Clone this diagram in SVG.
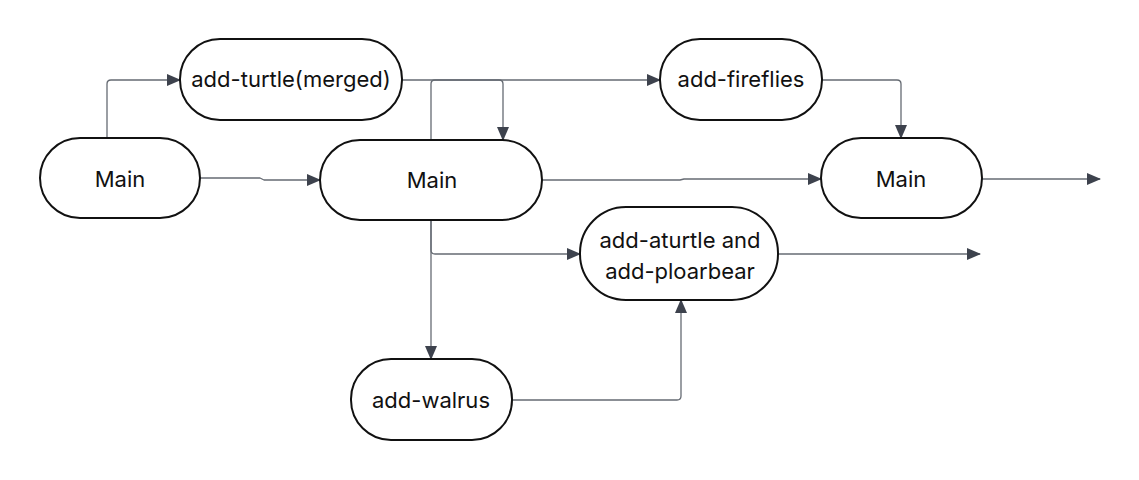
<svg xmlns="http://www.w3.org/2000/svg" width="1139" height="480" viewBox="0 0 1139 480">
<style>
.n{fill:#fff;stroke:#111;stroke-width:2}
.t{font-family:Inter,"Liberation Sans",sans-serif;font-size:22px;fill:#111;text-anchor:middle;dominant-baseline:central}
.c{fill:none;stroke:#666b73;stroke-width:1.3;stroke-linejoin:round}
</style>
<defs>
<marker id="a" markerUnits="userSpaceOnUse" markerWidth="14" markerHeight="12" refX="13" refY="6" orient="auto">
<path d="M0,0 L14,6 L0,12 Z" fill="#3d424d"/>
</marker>
</defs>
<rect width="1139" height="480" fill="#fff"/>
<g id="connectors">
<path class="c" d="M107,138 V84 Q107,80 111,80 H180" marker-end="url(#a)"/>
<path class="c" d="M200,178 H260 L264,180 H320" marker-end="url(#a)"/>
<path class="c" d="M402,80 H499 Q503,80 503,84 V140" marker-end="url(#a)"/>
<path class="c" d="M431,140 V84 Q431,80 435,80 H660" marker-end="url(#a)"/>
<path class="c" d="M822,80 H897 Q901,80 901,84 V138" marker-end="url(#a)"/>
<path class="c" d="M542,180 H680 L684,179 H821" marker-end="url(#a)"/>
<path class="c" d="M982,179 H1100" marker-end="url(#a)"/>
<path class="c" d="M431,220 V359" marker-end="url(#a)"/>
<path class="c" d="M431,220 V250 Q431,254 435,254 H580" marker-end="url(#a)"/>
<path class="c" d="M778,254 H980" marker-end="url(#a)"/>
<path class="c" d="M512,400 H677 Q681,400 681,396 V300" marker-end="url(#a)"/>
</g>
<g id="main1"><rect class="n" x="40" y="138" width="160" height="80" rx="40"/><text class="t" x="120" y="179">Main</text></g>
<g id="addturtle"><rect class="n" x="180" y="39" width="222" height="81" rx="40"/><text class="t" x="291" y="79">add-turtle(merged)</text></g>
<g id="main2"><rect class="n" x="320" y="140" width="222" height="80" rx="40"/><text class="t" x="432" y="180">Main</text></g>
<g id="addfireflies"><rect class="n" x="660" y="39" width="162" height="81" rx="40"/><text class="t" x="741" y="79">add-fireflies</text></g>
<g id="main3"><rect class="n" x="821" y="138" width="161" height="80" rx="40"/><text class="t" x="901" y="179">Main</text></g>
<g id="addaturtle"><rect class="n" x="580" y="207" width="198" height="93" rx="46"/><text class="t" x="680" y="240">add-aturtle and</text><text class="t" x="680" y="271">add-ploarbear</text></g>
<g id="addwalrus"><rect class="n" x="351" y="359" width="161" height="81" rx="40"/><text class="t" x="431" y="400">add-walrus</text></g>
</svg>
